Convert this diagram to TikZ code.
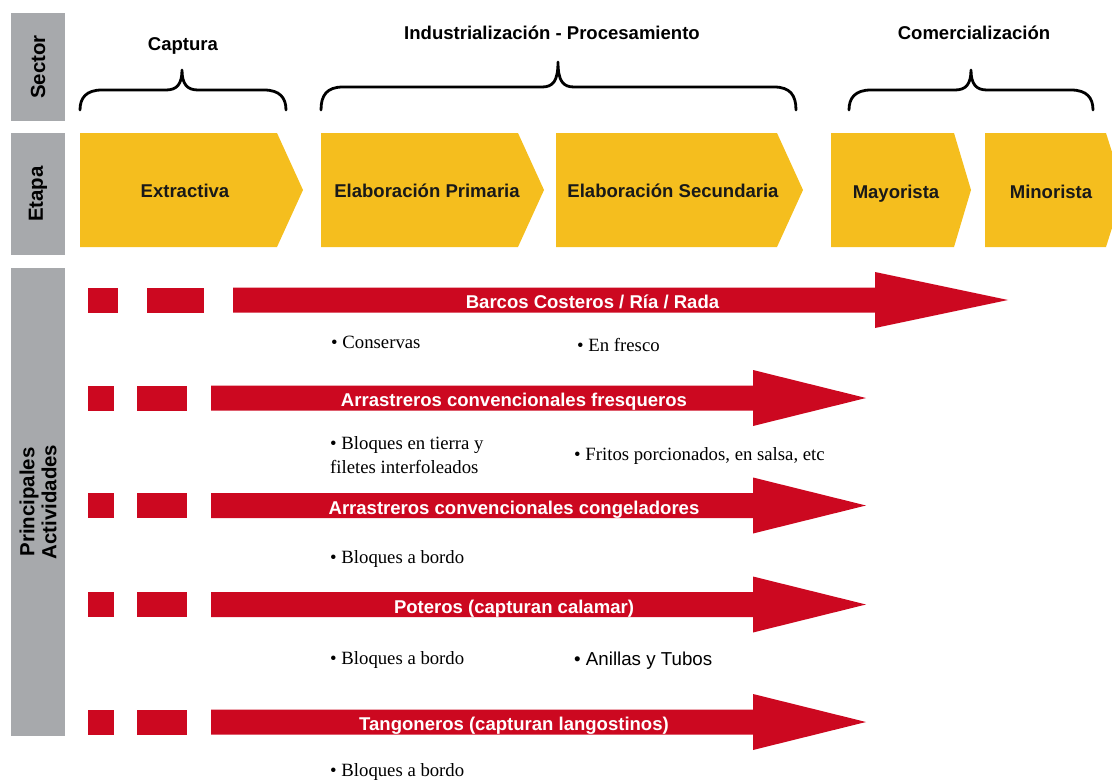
\documentclass[tikz,border=0pt]{standalone}
\usepackage{fontspec}
\setmainfont{Liberation Serif}
\newfontfamily\arialf{Liberation Sans}
\definecolor{ygold}{RGB}{245,190,30}
\definecolor{rred}{RGB}{204,8,32}
\definecolor{lgray}{RGB}{167,169,172}
\newcommand\hbrace[5]{% x1, xt, x2, H, T
  \draw[bracepen] (#1,110) .. controls (#1,{#4+8}) and ({#1+6},#4) .. ({#1+22},#4)
    -- ({#2-16},#4) .. controls ({#2-5},#4) and (#2,{#4-6}) .. (#2,#5)
    .. controls (#2,{#4-6}) and ({#2+5},#4) .. ({#2+16},#4)
    -- ({#3-22},#4) .. controls ({#3-6},#4) and (#3,{#4+8}) .. (#3,110);}
\newcommand\redrow[8]{% cy, s1a, s1b, s2a, s2b, shaft, headbase, tip
  \fill[redfill] (#2,{#1-12.5}) rectangle (#3,{#1+12.5});
  \fill[redfill] (#4,{#1-12.5}) rectangle (#5,{#1+12.5});
  \fill[redfill] (#6,{#1-12.5}) -- (#7,{#1-12.5}) -- (#7,{#1-28}) -- (#8,#1)
    -- (#7,{#1+28}) -- (#7,{#1+12.5}) -- (#6,{#1+12.5}) -- cycle;}
\begin{document}
\begin{tikzpicture}[x=1bp,y=-1bp,
  side/.style={fill=lgray},
  sidelab/.style={rotate=90, font=\arialf\bfseries\fontsize{20.5}{22}\selectfont, align=center, inner sep=0},
  hdr/.style={font=\arialf\bfseries\fontsize{18.6}{22}\selectfont, inner sep=0, anchor=base},
  stage/.style={font=\arialf\bfseries\fontsize{18.6}{22}\selectfont, inner sep=0, anchor=base, text=black!90},
  barlab/.style={font=\arialf\bfseries\fontsize{18.6}{22}\selectfont, inner sep=0, anchor=base, text=white},
  item/.style={font=\fontsize{18.8}{24}\selectfont, inner sep=0, anchor=base west, align=left},
  itemsans/.style={font=\arialf\fontsize{18.8}{24}\selectfont, inner sep=0, anchor=base west},
  bracepen/.style={line width=2.8bp, line cap=round, line join=round},
  chev/.style={fill=ygold},
  redfill/.style={fill=rred}
]
\useasboundingbox (0,0) rectangle (1112,781);
\clip (0,0) rectangle (1112,781);

% side bars
\fill[side] (11,13) rectangle (65,121);
\fill[side] (11,133) rectangle (65,255);
\fill[side] (11,268) rectangle (65,736);
\node[sidelab] (sector) at (38,67) {Sector};
\node[sidelab] (etapa) at (38,194) {Etapa};
\node[sidelab] (activ) at (38,502) {Principales\\Actividades};

% sector headers and braces
\node[hdr] (captura) at (183,50.5) {Captura};
\node[hdr] (indus) at (552,39.5) {Industrialización - Procesamiento};
\node[hdr] (comer) at (974,40) {Comercialización};
\hbrace{80}{182}{286}{90}{70}
\hbrace{321}{558}{796}{87}{62}
\hbrace{849}{971}{1093}{90}{70}

% stages
\fill[chev] (80,133) -- (277,133) -- (303,190) -- (277,247) -- (80,247) -- cycle;
\fill[chev] (321,133) -- (518,133) -- (544,190) -- (518,247) -- (321,247) -- cycle;
\fill[chev] (556,133) -- (777,133) -- (803,190) -- (777,247) -- (556,247) -- cycle;
\fill[chev] (831,133) -- (954,133) -- (971,190) -- (954,247) -- (831,247) -- cycle;
\fill[chev] (985,133) -- (1106,133) -- (1124,190) -- (1106,247) -- (985,247) -- cycle;
\node[stage] (extr) at (185,197.5) {Extractiva};
\node[stage] (prim) at (427,197.5) {Elaboración Primaria};
\node[stage] (secu) at (673,197.5) {Elaboración Secundaria};
\node[stage] (mayo) at (896,198.5) {Mayorista};
\node[stage] (mino) at (1051,198.5) {Minorista};

% activity rows
\redrow{300}{88}{118}{147}{204}{233}{875}{1008}
\redrow{398}{88}{114}{137}{187}{211}{753}{866}
\redrow{505.5}{88}{114}{137}{187}{211}{753}{866}
\redrow{604.5}{88}{114}{137}{187}{211}{753}{866}
\redrow{722}{88}{114}{137}{187}{211}{753}{866}
\node[barlab] (r1) at (592.5,308.5) {Barcos Costeros / Ría / Rada};
\node[barlab] (r2) at (514,406.5) {Arrastreros convencionales fresqueros};
\node[barlab] (r3) at (514,514) {Arrastreros convencionales congeladores};
\node[barlab] (r4) at (514,613) {Poteros (capturan calamar)};
\node[barlab] (r5) at (514,730.5) {Tangoneros (capturan langostinos)};

% items
\node[item] (i1) at (331,348) {• Conservas};
\node[item] (i2) at (577,351) {• En fresco};
\node[item, anchor=west] (i3) at (330,455) {• Bloques en tierra y\\filetes interfoleados};
\node[item] (i4) at (574,460) {• Fritos porcionados, en salsa, etc};
\node[item] (i5) at (330,563) {• Bloques a bordo};
\node[item] (i6) at (330,664) {• Bloques a bordo};
\node[itemsans] (i7) at (574,665) {• Anillas y Tubos};
\node[item] (i8) at (330,776) {• Bloques a bordo};
\end{tikzpicture}
\end{document}
